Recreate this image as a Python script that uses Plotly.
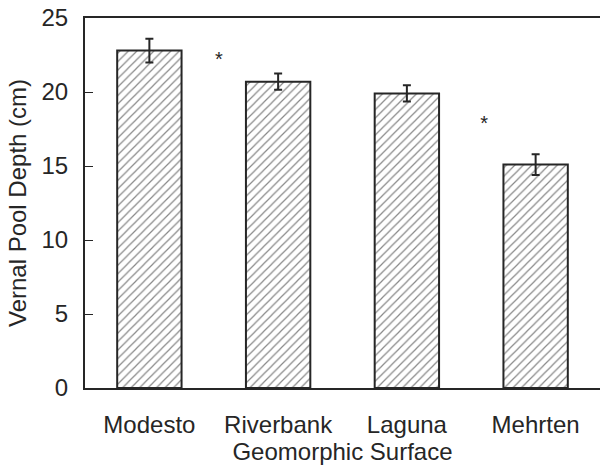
import plotly.graph_objects as go

categories = ["Modesto", "Riverbank", "Laguna", "Mehrten"]
depth = [22.8, 20.7, 19.9, 15.1]
err = [0.8, 0.55, 0.55, 0.7]
star_x = [0.54, 2.6]
star_y = [22.1, 17.8]
yticks = [0, 5, 10, 15, 20, 25]

font = "Liberation Sans, Arial, sans-serif"
ink = "#262626"
fig = go.Figure()
fig.add_trace(go.Bar(
    x=list(range(len(categories))), y=depth, width=0.5,
    marker=dict(color="white", line=dict(color=ink, width=2),
                pattern=dict(shape="/", size=6, solidity=0.2, fgcolor="#111111", bgcolor="white")),
    error_y=dict(type="data", array=err, visible=True, color=ink, thickness=2, width=4),
    showlegend=False,
))
fig.add_trace(go.Scatter(
    x=star_x, y=star_y, mode="text", text=["*"] * len(star_x),
    textfont=dict(size=20, color=ink, family=font), showlegend=False,
))
fig.update_layout(
    width=600, height=470,
    margin=dict(l=85, r=0, t=18, b=82),
    paper_bgcolor="white", plot_bgcolor="white",
    font=dict(family=font, size=24, color=ink),
    xaxis=dict(range=[-0.5, 3.5], tickvals=list(range(len(categories))), ticktext=categories,
               showline=True, mirror=True, linecolor=ink, linewidth=2, ticks="",
               showgrid=False, zeroline=False, ticklabelstandoff=14, automargin=False,
               tickfont=dict(size=24, family=font, color=ink),
               title=dict(text="Geomorphic Surface", standoff=6,
                          font=dict(size=24, family=font, color=ink))),
    yaxis=dict(range=[0, 25], tickvals=yticks, showline=True, linecolor=ink, linewidth=2,
               ticks="inside", ticklen=8, tickwidth=1, tickcolor=ink,
               showgrid=False, zeroline=False, ticklabelstandoff=10, automargin=False,
               tickfont=dict(size=24, family=font, color=ink),
               title=dict(text="Vernal Pool Depth (cm)", standoff=8,
                          font=dict(size=24, family=font, color=ink))),
)
fig.write_html("out.html", config={"displayModeBar": False},
               post_script="document.body.style.margin='0';")
